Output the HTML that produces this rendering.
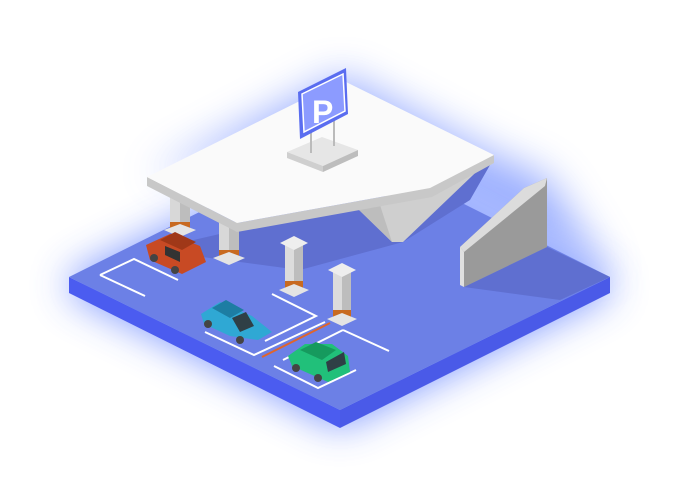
<!DOCTYPE html>
<html><head><style>html,body{margin:0;padding:0;background:#fff;width:681px;height:499px;overflow:hidden}</style></head>
<body>
<svg width="681" height="499" viewBox="0 0 681 499" xmlns="http://www.w3.org/2000/svg">
<defs>
<filter id="g" x="-30%" y="-30%" width="160%" height="160%"><feGaussianBlur stdDeviation="20"/></filter>
</defs>
<polygon points="69,277 340,142 610,277 610,293 340,428 69,293" fill="#6f8cff" filter="url(#g)" opacity="0.9"/>
<polygon points="147,177 342,75 494,155 547,178 610,277 340,142" fill="#6f8cff" filter="url(#g)" opacity="0.7"/>
<!-- base -->
<polygon points="69,277 340,410 340,428 69,293" fill="#4b5cf0"/>
<polygon points="340,410 610,277 610,293 340,428" fill="#4a5ae8"/>
<polygon points="69,277 340,142 610,277 340,410" fill="#6c80e6"/>
<!-- shadows -->
<polygon points="150,250 237,230 430,193 494,158 470,200 403,242 300,270 240,262" fill="#5f6fd0"/>
<polygon points="464,287 547,247 610,277 560,300" fill="#5f6fd0"/>
<!-- wedge -->
<polygon points="356,207 494,155 403,242 392,242" fill="#cfcfcf"/>
<polygon points="356,207 380,205 392,242" fill="#bdbdbd"/>
<!-- ramp wall -->
<polygon points="460,247 524,188 547,178 547,247 464,287" fill="#9a9a9a"/>
<polygon points="460,247 524,188 547,178 545,186 464,252" fill="#dcdcdc"/>
<polygon points="460,247 464,252 464,287 460,285" fill="#e0e0e0"/>
<!-- parking lines -->
<g stroke="#fff" stroke-width="2" fill="none">
<polyline points="100,275 134,259 178,280"/><polyline points="100,275 145,296"/>
<polyline points="272,294 316,316 265,341"/>
<polyline points="205,332 254,355 325,322"/>
<polyline points="274,366 318,388 356,370"/>
<polyline points="343,330 389,351"/><polyline points="343,330 283,360"/>
</g>
<line x1="262" y1="357" x2="330" y2="323" stroke="#e0652a" stroke-width="2"/>
<!-- pillars -->
<g>
<rect x="170" y="196" width="20" height="34" fill="#d8d8d8"/><rect x="180" y="196" width="10" height="34" fill="#bdbdbd"/>
<rect x="170" y="222" width="20" height="8" fill="#c86a20"/><polygon points="164,230 180,224 196,230 180,237" fill="#e4e4e4"/>
<rect x="219" y="222" width="20" height="35" fill="#d8d8d8"/><rect x="229" y="222" width="10" height="35" fill="#bdbdbd"/>
<rect x="219" y="250" width="20" height="8" fill="#c86a20"/><polygon points="213,258 229,252 245,258 229,265" fill="#e4e4e4"/>
<rect x="285" y="244" width="18" height="44" fill="#dcdcdc"/><rect x="294" y="244" width="9" height="44" fill="#bdbdbd"/>
<polygon points="280,243 294,236 308,243 294,250" fill="#eee"/>
<rect x="285" y="281" width="18" height="8" fill="#c86a20"/><polygon points="279,290 294,284 309,290 294,297" fill="#e4e4e4"/>
<rect x="333" y="271" width="18" height="46" fill="#dcdcdc"/><rect x="342" y="271" width="9" height="46" fill="#bdbdbd"/>
<polygon points="328,270 342,263 356,270 342,277" fill="#eee"/>
<rect x="333" y="310" width="18" height="8" fill="#c86a20"/><polygon points="327,319 342,313 357,319 342,326" fill="#e4e4e4"/>
</g>
<!-- roof -->
<polygon points="147,177 237,223 430,188 494,155 494,163 432,197 237,232 147,186" fill="#c8c8c8"/>
<polygon points="147,177 342,80 494,155 430,188 237,223" fill="#fafafa"/>
<!-- sign -->
<polygon points="287,152 322,137 358,150 323,166" fill="#e6e6e6"/>
<polygon points="287,152 323,166 323,172 287,158" fill="#cfcfcf"/>
<polygon points="323,166 358,150 358,156 323,172" fill="#bdbdbd"/>
<line x1="311" y1="128" x2="311" y2="153" stroke="#bbb" stroke-width="2"/>
<line x1="334" y1="120" x2="334" y2="146" stroke="#bbb" stroke-width="2"/>
<polygon points="298,92 346,68 348,114 300,139" fill="#5a6df0"/>
<polygon points="302,94 343,74 345,111 304,132" fill="#8c9bff" stroke="#fff" stroke-width="1.5"/>
<text x="312" y="123" font-family="Liberation Sans, sans-serif" font-size="32" font-weight="bold" fill="#fff">P</text>
<!-- red car -->
<g>
<polygon points="146,245 170,234 200,246 206,262 182,274 150,260" fill="#c84a24"/>
<polygon points="160,240 175,232 196,242 182,250" fill="#a03818"/>
<polygon points="165,246 180,252 180,262 165,255" fill="#333"/>
<circle cx="154" cy="258" r="4" fill="#444"/><circle cx="175" cy="270" r="4" fill="#444"/>
</g>
<!-- blue car -->
<g>
<polygon points="201,314 220,302 252,316 272,332 258,340 230,336 204,324" fill="#2fa8d4"/>
<polygon points="212,308 226,300 244,310 230,318" fill="#1d7da3"/>
<polygon points="232,318 246,312 254,326 240,332" fill="#2f3f46"/>
<circle cx="208" cy="324" r="4" fill="#444"/><circle cx="240" cy="340" r="4" fill="#444"/>
</g>
<!-- green car -->
<g>
<polygon points="288,356 305,344 332,344 348,356 350,372 328,382 292,366" fill="#21c07a"/>
<polygon points="300,350 316,342 336,350 322,360" fill="#169a5e"/>
<polygon points="326,362 344,352 346,364 328,372" fill="#2f3f46"/>
<circle cx="296" cy="368" r="4" fill="#444"/><circle cx="318" cy="378" r="4" fill="#444"/>
</g>
</svg>
</body></html>
